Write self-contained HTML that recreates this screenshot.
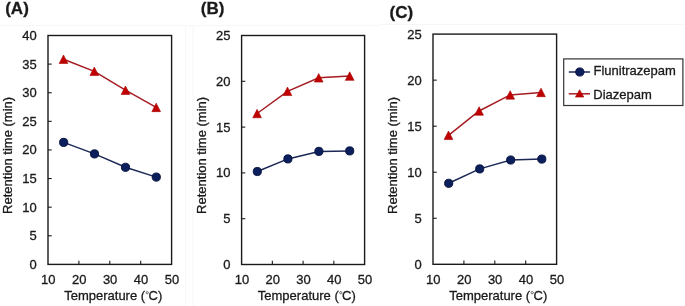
<!DOCTYPE html>
<html><head><meta charset="utf-8"><style>
html,body{margin:0;padding:0;background:#fff;}
body{width:685px;height:306px;overflow:hidden;}
svg{display:block;will-change:transform;}
text{font-family:"Liberation Sans", sans-serif;font-size:13px;fill:#1a1a1a;stroke:#1a1a1a;stroke-width:0.3px;}
</style></head><body>
<svg width="685" height="306" viewBox="0 0 685 306">
<line x1="0" y1="25.5" x2="380" y2="25.5" stroke="#f7f7f7" stroke-width="1"/>
<line x1="380" y1="24.5" x2="685" y2="24.5" stroke="#f7f7f7" stroke-width="1"/>
<line x1="185.5" y1="25.5" x2="185.5" y2="306" stroke="#f7f7f7" stroke-width="1"/>
<line x1="193" y1="25.5" x2="193" y2="306" stroke="#f7f7f7" stroke-width="1"/>
<line x1="48" y1="235.79" x2="51.7" y2="235.79" stroke="#1a1a1a" stroke-width="1.1"/>
<line x1="48" y1="207.17" x2="51.7" y2="207.17" stroke="#1a1a1a" stroke-width="1.1"/>
<line x1="48" y1="178.56" x2="51.7" y2="178.56" stroke="#1a1a1a" stroke-width="1.1"/>
<line x1="48" y1="149.95" x2="51.7" y2="149.95" stroke="#1a1a1a" stroke-width="1.1"/>
<line x1="48" y1="121.34" x2="51.7" y2="121.34" stroke="#1a1a1a" stroke-width="1.1"/>
<line x1="48" y1="92.72" x2="51.7" y2="92.72" stroke="#1a1a1a" stroke-width="1.1"/>
<line x1="48" y1="64.11" x2="51.7" y2="64.11" stroke="#1a1a1a" stroke-width="1.1"/>
<line x1="78.90" y1="264.4" x2="78.90" y2="260.7" stroke="#1a1a1a" stroke-width="1.1"/>
<line x1="109.80" y1="264.4" x2="109.80" y2="260.7" stroke="#1a1a1a" stroke-width="1.1"/>
<line x1="140.70" y1="264.4" x2="140.70" y2="260.7" stroke="#1a1a1a" stroke-width="1.1"/>
<rect x="48" y="35.5" width="123.60" height="228.90" fill="none" stroke="#1a1a1a" stroke-width="1.4"/>
<text transform="translate(36.80,268.90) scale(1,1.05)" text-anchor="end">0</text>
<text transform="translate(36.80,240.29) scale(1,1.05)" text-anchor="end">5</text>
<text transform="translate(36.80,211.67) scale(1,1.05)" text-anchor="end">10</text>
<text transform="translate(36.80,183.06) scale(1,1.05)" text-anchor="end">15</text>
<text transform="translate(36.80,154.45) scale(1,1.05)" text-anchor="end">20</text>
<text transform="translate(36.80,125.84) scale(1,1.05)" text-anchor="end">25</text>
<text transform="translate(36.80,97.22) scale(1,1.05)" text-anchor="end">30</text>
<text transform="translate(36.80,68.61) scale(1,1.05)" text-anchor="end">35</text>
<text transform="translate(36.80,40.00) scale(1,1.05)" text-anchor="end">40</text>
<text transform="translate(48.30,284.40) scale(1,1.05)" text-anchor="middle">10</text>
<text transform="translate(79.20,284.40) scale(1,1.05)" text-anchor="middle">20</text>
<text transform="translate(110.10,284.40) scale(1,1.05)" text-anchor="middle">30</text>
<text transform="translate(141.00,284.40) scale(1,1.05)" text-anchor="middle">40</text>
<text transform="translate(171.90,284.40) scale(1,1.05)" text-anchor="middle">50</text>
<text transform="translate(64.20,300.00) scale(1,1.0)">Temperature (</text>
<circle cx="147.20" cy="292.7" r="1.15" fill="none" stroke="#1a1a1a" stroke-width="0.6"/>
<text transform="translate(148.50,300.40) scale(1,1.0)">C</text>
<text transform="translate(158.00,300.00) scale(1,1.0)">)</text>
<text transform="translate(12.40,213.90) rotate(-90) scale(1,1.0)">Retention time (min)</text>
<text transform="translate(5.20,14.00) scale(1,1.0)" style="font-weight:bold;font-size:17px">(A)</text>
<polyline points="63.5,59.2 94.3,71.3 125.5,90.2 156.2,107.4" fill="none" stroke="#a61c22" stroke-width="1.5"/>
<polyline points="63.65,142.4 94.5,153.9 125.5,167.3 156.3,177.1" fill="none" stroke="#1c2856" stroke-width="1.5"/>
<path d="M63.50 54.95L67.85 63.45L59.15 63.45Z" fill="#c00000" stroke="#a80000" stroke-width="0.6"/>
<path d="M94.30 67.05L98.65 75.55L89.95 75.55Z" fill="#c00000" stroke="#a80000" stroke-width="0.6"/>
<path d="M125.50 85.95L129.85 94.45L121.15 94.45Z" fill="#c00000" stroke="#a80000" stroke-width="0.6"/>
<path d="M156.20 103.15L160.55 111.65L151.85 111.65Z" fill="#c00000" stroke="#a80000" stroke-width="0.6"/>
<circle cx="63.65" cy="142.40" r="4.1" fill="#0b1f5c" stroke="#020f3a" stroke-width="0.9"/>
<circle cx="94.50" cy="153.90" r="4.1" fill="#0b1f5c" stroke="#020f3a" stroke-width="0.9"/>
<circle cx="125.50" cy="167.30" r="4.1" fill="#0b1f5c" stroke="#020f3a" stroke-width="0.9"/>
<circle cx="156.30" cy="177.10" r="4.1" fill="#0b1f5c" stroke="#020f3a" stroke-width="0.9"/>
<line x1="241.6" y1="218.70" x2="245.29999999999998" y2="218.70" stroke="#1a1a1a" stroke-width="1.1"/>
<line x1="241.6" y1="172.90" x2="245.29999999999998" y2="172.90" stroke="#1a1a1a" stroke-width="1.1"/>
<line x1="241.6" y1="127.10" x2="245.29999999999998" y2="127.10" stroke="#1a1a1a" stroke-width="1.1"/>
<line x1="241.6" y1="81.30" x2="245.29999999999998" y2="81.30" stroke="#1a1a1a" stroke-width="1.1"/>
<line x1="272.35" y1="264.5" x2="272.35" y2="260.8" stroke="#1a1a1a" stroke-width="1.1"/>
<line x1="303.10" y1="264.5" x2="303.10" y2="260.8" stroke="#1a1a1a" stroke-width="1.1"/>
<line x1="333.85" y1="264.5" x2="333.85" y2="260.8" stroke="#1a1a1a" stroke-width="1.1"/>
<rect x="241.6" y="35.5" width="123.00" height="229.00" fill="none" stroke="#1a1a1a" stroke-width="1.4"/>
<text transform="translate(230.40,269.00) scale(1,1.05)" text-anchor="end">0</text>
<text transform="translate(230.40,223.20) scale(1,1.05)" text-anchor="end">5</text>
<text transform="translate(230.40,177.40) scale(1,1.05)" text-anchor="end">10</text>
<text transform="translate(230.40,131.60) scale(1,1.05)" text-anchor="end">15</text>
<text transform="translate(230.40,85.80) scale(1,1.05)" text-anchor="end">20</text>
<text transform="translate(230.40,40.00) scale(1,1.05)" text-anchor="end">25</text>
<text transform="translate(241.90,284.40) scale(1,1.05)" text-anchor="middle">10</text>
<text transform="translate(272.65,284.40) scale(1,1.05)" text-anchor="middle">20</text>
<text transform="translate(303.40,284.40) scale(1,1.05)" text-anchor="middle">30</text>
<text transform="translate(334.15,284.40) scale(1,1.05)" text-anchor="middle">40</text>
<text transform="translate(364.90,284.40) scale(1,1.05)" text-anchor="middle">50</text>
<text transform="translate(257.80,300.00) scale(1,1.0)">Temperature (</text>
<circle cx="340.80" cy="292.7" r="1.15" fill="none" stroke="#1a1a1a" stroke-width="0.6"/>
<text transform="translate(342.10,300.40) scale(1,1.0)">C</text>
<text transform="translate(351.60,300.00) scale(1,1.0)">)</text>
<text transform="translate(206.00,213.90) rotate(-90) scale(1,1.0)">Retention time (min)</text>
<text transform="translate(200.80,14.10) scale(1,1.0)" style="font-weight:bold;font-size:17px">(B)</text>
<polyline points="257.1,113.5 287.5,91.3 318.7,77.8 349.7,76.1" fill="none" stroke="#a61c22" stroke-width="1.5"/>
<polyline points="257.3,171.5 287.9,158.9 318.9,151.4 349.7,150.9" fill="none" stroke="#1c2856" stroke-width="1.5"/>
<path d="M257.10 109.25L261.45 117.75L252.75 117.75Z" fill="#c00000" stroke="#a80000" stroke-width="0.6"/>
<path d="M287.50 87.05L291.85 95.55L283.15 95.55Z" fill="#c00000" stroke="#a80000" stroke-width="0.6"/>
<path d="M318.70 73.55L323.05 82.05L314.35 82.05Z" fill="#c00000" stroke="#a80000" stroke-width="0.6"/>
<path d="M349.70 71.85L354.05 80.35L345.35 80.35Z" fill="#c00000" stroke="#a80000" stroke-width="0.6"/>
<circle cx="257.30" cy="171.50" r="4.1" fill="#0b1f5c" stroke="#020f3a" stroke-width="0.9"/>
<circle cx="287.90" cy="158.90" r="4.1" fill="#0b1f5c" stroke="#020f3a" stroke-width="0.9"/>
<circle cx="318.90" cy="151.40" r="4.1" fill="#0b1f5c" stroke="#020f3a" stroke-width="0.9"/>
<circle cx="349.70" cy="150.90" r="4.1" fill="#0b1f5c" stroke="#020f3a" stroke-width="0.9"/>
<line x1="433" y1="218.26" x2="436.7" y2="218.26" stroke="#1a1a1a" stroke-width="1.1"/>
<line x1="433" y1="172.22" x2="436.7" y2="172.22" stroke="#1a1a1a" stroke-width="1.1"/>
<line x1="433" y1="126.18" x2="436.7" y2="126.18" stroke="#1a1a1a" stroke-width="1.1"/>
<line x1="433" y1="80.14" x2="436.7" y2="80.14" stroke="#1a1a1a" stroke-width="1.1"/>
<line x1="463.90" y1="264.3" x2="463.90" y2="260.6" stroke="#1a1a1a" stroke-width="1.1"/>
<line x1="494.80" y1="264.3" x2="494.80" y2="260.6" stroke="#1a1a1a" stroke-width="1.1"/>
<line x1="525.70" y1="264.3" x2="525.70" y2="260.6" stroke="#1a1a1a" stroke-width="1.1"/>
<rect x="433" y="34.1" width="123.60" height="230.20" fill="none" stroke="#1a1a1a" stroke-width="1.4"/>
<text transform="translate(421.80,268.80) scale(1,1.05)" text-anchor="end">0</text>
<text transform="translate(421.80,222.76) scale(1,1.05)" text-anchor="end">5</text>
<text transform="translate(421.80,176.72) scale(1,1.05)" text-anchor="end">10</text>
<text transform="translate(421.80,130.68) scale(1,1.05)" text-anchor="end">15</text>
<text transform="translate(421.80,84.64) scale(1,1.05)" text-anchor="end">20</text>
<text transform="translate(421.80,38.60) scale(1,1.05)" text-anchor="end">25</text>
<text transform="translate(433.30,284.40) scale(1,1.05)" text-anchor="middle">10</text>
<text transform="translate(464.20,284.40) scale(1,1.05)" text-anchor="middle">20</text>
<text transform="translate(495.10,284.40) scale(1,1.05)" text-anchor="middle">30</text>
<text transform="translate(526.00,284.40) scale(1,1.05)" text-anchor="middle">40</text>
<text transform="translate(556.90,284.40) scale(1,1.05)" text-anchor="middle">50</text>
<text transform="translate(449.20,300.00) scale(1,1.0)">Temperature (</text>
<circle cx="532.20" cy="292.7" r="1.15" fill="none" stroke="#1a1a1a" stroke-width="0.6"/>
<text transform="translate(533.50,300.40) scale(1,1.0)">C</text>
<text transform="translate(543.00,300.00) scale(1,1.0)">)</text>
<text transform="translate(397.40,213.90) rotate(-90) scale(1,1.0)">Retention time (min)</text>
<text transform="translate(389.60,18.40) scale(1,1.0)" style="font-weight:bold;font-size:17px">(C)</text>
<polyline points="448.5,135.3 479.1,111 510.2,94.9 541,92.4" fill="none" stroke="#a61c22" stroke-width="1.5"/>
<polyline points="448.7,183.3 479.7,168.9 510.7,160 541.8,159.1" fill="none" stroke="#1c2856" stroke-width="1.5"/>
<path d="M448.50 131.05L452.85 139.55L444.15 139.55Z" fill="#c00000" stroke="#a80000" stroke-width="0.6"/>
<path d="M479.10 106.75L483.45 115.25L474.75 115.25Z" fill="#c00000" stroke="#a80000" stroke-width="0.6"/>
<path d="M510.20 90.65L514.55 99.15L505.85 99.15Z" fill="#c00000" stroke="#a80000" stroke-width="0.6"/>
<path d="M541.00 88.15L545.35 96.65L536.65 96.65Z" fill="#c00000" stroke="#a80000" stroke-width="0.6"/>
<circle cx="448.70" cy="183.30" r="4.1" fill="#0b1f5c" stroke="#020f3a" stroke-width="0.9"/>
<circle cx="479.70" cy="168.90" r="4.1" fill="#0b1f5c" stroke="#020f3a" stroke-width="0.9"/>
<circle cx="510.70" cy="160.00" r="4.1" fill="#0b1f5c" stroke="#020f3a" stroke-width="0.9"/>
<circle cx="541.80" cy="159.10" r="4.1" fill="#0b1f5c" stroke="#020f3a" stroke-width="0.9"/>
<rect x="563.7" y="58.9" width="119.2" height="46.6" fill="#fff" stroke="#333" stroke-width="1.2"/>
<line x1="568.8" y1="72" x2="590" y2="72" stroke="#1c2856" stroke-width="1.5"/>
<circle cx="579.80" cy="72.00" r="4.1" fill="#0b1f5c" stroke="#020f3a" stroke-width="0.9"/>
<text transform="translate(593.50,74.80) scale(1,1.0)">Flunitrazepam</text>
<line x1="568.8" y1="93.8" x2="590" y2="93.8" stroke="#a61c22" stroke-width="1.5"/>
<path d="M579.60 89.70L583.80 97.10L575.40 97.10Z" fill="#c00000" stroke="#a80000" stroke-width="0.6"/>
<text transform="translate(593.30,98.70) scale(1,1.0)">Diazepam</text>
</svg>
</body></html>
